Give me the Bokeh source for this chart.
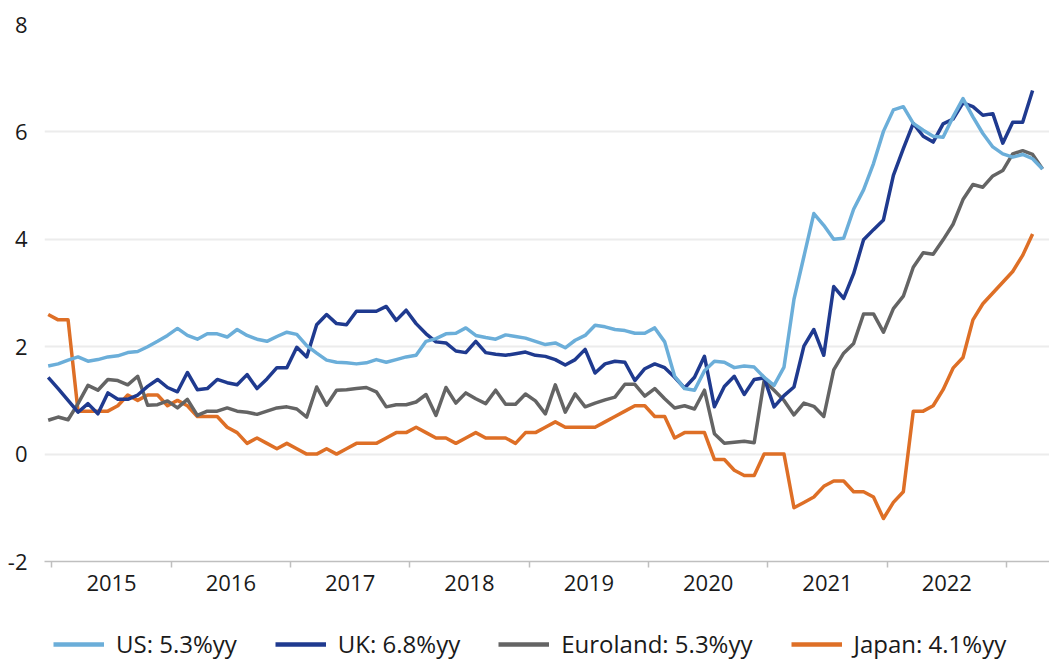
from bokeh.plotting import figure
from bokeh.layouts import column
from bokeh.models import (FixedTicker, Legend, LegendItem, Range1d,
                          CustomJSTickFormatter, ColumnDataSource)
from bokeh.embed import file_html
from bokeh.resources import INLINE

# Monthly core inflation, %yy, from Jan 2015
us = [1.64, 1.68, 1.75, 1.81, 1.73, 1.76, 1.81, 1.83, 1.89, 1.91, 2.0, 2.1,
      2.21, 2.34, 2.21, 2.14, 2.24, 2.24, 2.18, 2.32, 2.21, 2.14, 2.1, 2.19,
      2.27, 2.23, 2.02, 1.88, 1.75, 1.71, 1.70, 1.68, 1.70, 1.76, 1.71, 1.76,
      1.81, 1.84, 2.1, 2.15, 2.24, 2.25, 2.35, 2.21, 2.17, 2.14, 2.22, 2.19,
      2.16, 2.10, 2.04, 2.07, 1.98, 2.12, 2.21, 2.40, 2.37, 2.32, 2.30, 2.25,
      2.25, 2.35, 2.09, 1.45, 1.22, 1.19, 1.55, 1.73, 1.71, 1.61, 1.64, 1.62,
      1.43, 1.28, 1.62, 2.88, 3.68, 4.48, 4.26, 4.0, 4.02, 4.56, 4.92, 5.41,
      6.01, 6.41, 6.47, 6.16, 6.03, 5.92, 5.90, 6.28, 6.62, 6.28, 5.97, 5.72,
      5.59, 5.53, 5.58, 5.5, 5.31]
uk = [1.43, 1.22, 1.0, 0.78, 0.94, 0.75, 1.14, 1.02, 1.02, 1.1, 1.26, 1.39,
      1.24, 1.16, 1.52, 1.2, 1.22, 1.39, 1.33, 1.29, 1.48, 1.22, 1.4, 1.61,
      1.61, 1.99, 1.81, 2.41, 2.6, 2.43, 2.41, 2.66, 2.66, 2.66, 2.75, 2.49,
      2.68, 2.43, 2.24, 2.09, 2.07, 1.92, 1.89, 2.1, 1.89, 1.86, 1.84, 1.87,
      1.9, 1.84, 1.82, 1.76, 1.66, 1.76, 1.95, 1.51, 1.68, 1.73, 1.71, 1.37,
      1.59, 1.68, 1.61, 1.43, 1.23, 1.43, 1.82, 0.88, 1.26, 1.45, 1.11, 1.39,
      1.42, 0.88, 1.09, 1.25, 2.01, 2.32, 1.84, 3.12, 2.9, 3.36, 3.99, 4.18,
      4.36, 5.19, 5.69, 6.16, 5.92, 5.81, 6.15, 6.24, 6.54, 6.47, 6.31, 6.34,
      5.79, 6.18, 6.18, 6.77]
euro = [0.63, 0.69, 0.64, 0.94, 1.28, 1.19, 1.39, 1.37, 1.29, 1.45, 0.91, 0.92,
        0.99, 0.86, 1.02, 0.72, 0.8, 0.8, 0.86, 0.8, 0.78, 0.74, 0.8, 0.86,
        0.88, 0.84, 0.69, 1.25, 0.91, 1.19, 1.2, 1.22, 1.24, 1.16, 0.88, 0.92,
        0.92, 0.97, 1.11, 0.72, 1.24, 0.95, 1.14, 1.03, 0.94, 1.19, 0.93, 0.93,
        1.12, 0.99, 0.75, 1.29, 0.78, 1.12, 0.88, 0.95, 1.01, 1.06, 1.3, 1.3,
        1.08, 1.22, 1.03, 0.86, 0.9, 0.84, 1.19, 0.38, 0.2, 0.22, 0.24, 0.21,
        1.37, 1.19, 1.0, 0.73, 0.95, 0.89, 0.7, 1.57, 1.88, 2.06, 2.61, 2.61,
        2.27, 2.71, 2.94, 3.48, 3.75, 3.72, 3.99, 4.28, 4.74, 5.02, 4.97, 5.18,
        5.28, 5.59, 5.65, 5.58, 5.31]
japan = [2.6, 2.5, 2.5, 0.8, 0.8, 0.8, 0.8, 0.9, 1.1, 1.0, 1.1, 1.1,
         0.9, 1.0, 0.9, 0.7, 0.7, 0.7, 0.5, 0.4, 0.2, 0.3, 0.2, 0.1,
         0.2, 0.1, 0.0, 0.0, 0.1, 0.0, 0.1, 0.2, 0.2, 0.2, 0.3, 0.4,
         0.4, 0.5, 0.4, 0.3, 0.3, 0.2, 0.3, 0.4, 0.3, 0.3, 0.3, 0.2,
         0.4, 0.4, 0.5, 0.6, 0.5, 0.5, 0.5, 0.5, 0.6, 0.7, 0.8, 0.9,
         0.9, 0.7, 0.7, 0.3, 0.4, 0.4, 0.4, -0.1, -0.1, -0.3, -0.4, -0.4,
         0.0, 0.0, 0.0, -1.0, -0.9, -0.8, -0.6, -0.5, -0.5, -0.7, -0.7, -0.8,
         -1.2, -0.9, -0.7, 0.8, 0.8, 0.9, 1.2, 1.6, 1.8, 2.5, 2.8, 3.0,
         3.2, 3.4, 3.7, 4.1]

series_names = ["US: 5.3%yy", "UK: 6.8%yy", "Euroland: 5.3%yy", "Japan: 4.1%yy"]
series_values = [us, uk, euro, japan]
series_colors = ["#6baed9", "#1f3a8f", "#646464", "#de6f26"]

first_year = 2015
n_years = 8
year_ticks = [0.37 + 12 * k for k in range(n_years + 1)]
year_label_pos = [6.37 + 12 * k for k in range(n_years)]
y_ticks = [-2, 0, 2, 4, 6, 8]

FONT = "Open Sans"
TXT = "#1a1a1a"

p = figure(width=1049, height=620, output_backend="svg", toolbar_location=None,
           x_range=Range1d(-0.372, 100.7), y_range=Range1d(-2, 8),
           min_border_left=44, min_border_right=0, min_border_top=24,
           min_border_bottom=59)
p.outline_line_color = None
p.background_fill_color = "white"
p.border_fill_color = "white"

for name, vals, col in reversed(list(zip(series_names, series_values, series_colors))):
    src = ColumnDataSource(dict(x=list(range(len(vals))), y=vals))
    p.line("x", "y", source=src, line_color=col, line_width=3.5, line_join="round")

# x axis: year boundary ticks (minor), year labels centred (major)
xa = p.xaxis[0]
xa.ticker = FixedTicker(ticks=year_label_pos, minor_ticks=year_ticks)
xa.formatter = CustomJSTickFormatter(args=dict(y0=first_year),
                                     code="return String(y0 + Math.floor(tick / 12));")
xa.major_tick_out = 0
xa.major_tick_in = 0
xa.minor_tick_out = 6
xa.minor_tick_in = 0
xa.minor_tick_line_color = "#bfbfbf"
xa.minor_tick_line_width = 1.5
xa.axis_line_color = "#bfbfbf"
xa.axis_line_width = 1.5
xa.major_label_standoff = 7
xa.major_label_text_font = FONT
xa.major_label_text_font_size = "22px"
xa.major_label_text_color = TXT
p.xgrid.visible = False

ya = p.yaxis[0]
ya.ticker = FixedTicker(ticks=y_ticks)
ya.major_label_overrides = {t: str(t) for t in y_ticks}
ya.axis_line_color = None
ya.major_tick_line_color = None
ya.minor_tick_line_color = None
ya.major_tick_out = 0
ya.major_tick_in = 0
ya.major_label_standoff = 17
ya.major_label_text_font = FONT
ya.major_label_text_font_size = "22px"
ya.major_label_text_color = TXT
p.ygrid.ticker = FixedTicker(ticks=y_ticks)
p.ygrid.grid_line_color = "#ececec"
p.ygrid.grid_line_width = 2

# legend strip below the chart (series drawn there hidden, used as legend keys)
lg = figure(width=1049, height=40, output_backend="svg", toolbar_location=None,
            x_axis_location=None, y_axis_location=None,
            x_range=Range1d(0, 1), y_range=Range1d(0, 1),
            min_border_left=0, min_border_right=0, min_border_top=0,
            min_border_bottom=0)
lg.outline_line_color = None
lg.grid.visible = False
lg.border_fill_color = "white"
lg.background_fill_color = "white"
items = []
for name, vals, col in zip(series_names, series_values, series_colors):
    r = lg.line(x=list(range(len(vals))), y=vals, line_color=col, line_width=4.5,
                visible=False)
    items.append(LegendItem(label=name, renderers=[r]))
legend = Legend(items=items, location=(9, 0), orientation="horizontal",
                glyph_width=51, glyph_height=20, label_standoff=12, spacing=38,
                padding=0, margin=0, border_line_alpha=0, background_fill_alpha=0,
                inactive_fill_alpha=0,
                label_text_font=FONT, label_text_font_size="24px",
                label_text_color=TXT)
lg.add_layout(legend)

open("out.html", "w").write(file_html(column(p, lg, spacing=0), INLINE))
